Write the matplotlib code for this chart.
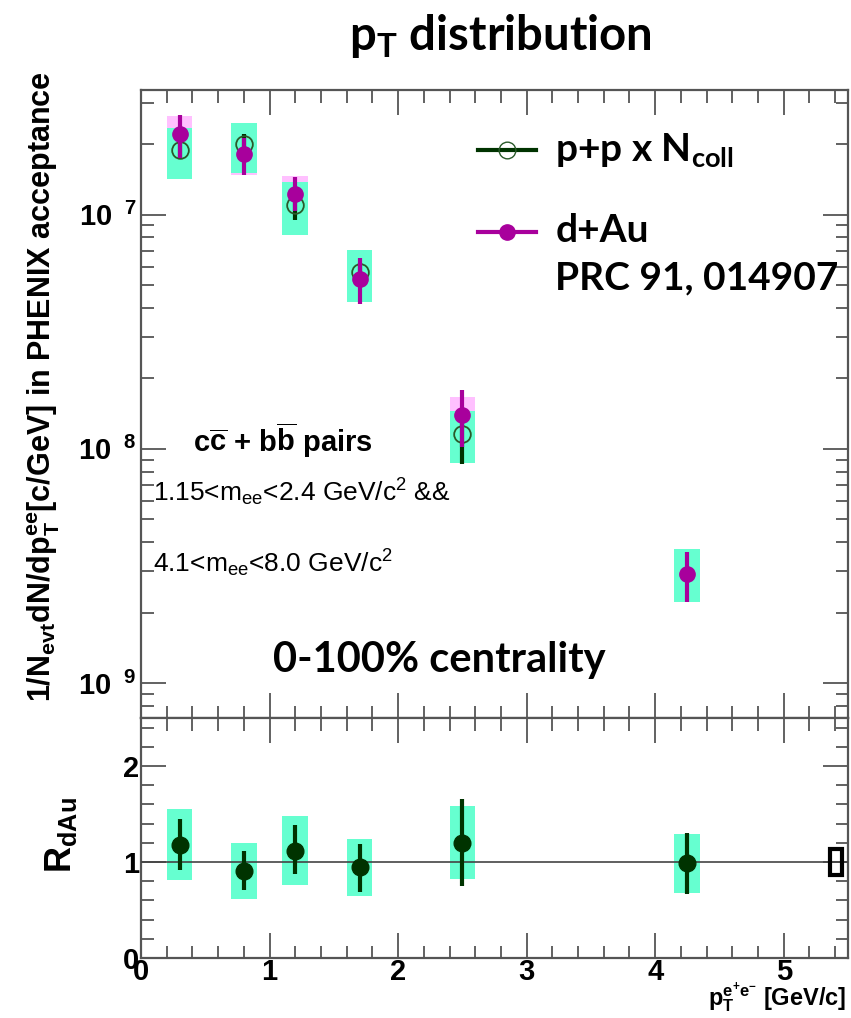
import numpy as np
import matplotlib
matplotlib.use("Agg")
import matplotlib.pyplot as plt
from matplotlib.patches import Rectangle
from matplotlib.lines import Line2D
from matplotlib.ticker import FixedLocator, MultipleLocator, LogLocator, NullFormatter

plt.rcParams['font.family'] = ['Liberation Sans', 'DejaVu Sans']
plt.rcParams['mathtext.default'] = 'regular'

# pT bins
pt = [0.3, 0.8, 1.2, 1.7, 2.5, 4.25]
half_w = 0.1

# d+Au yields, stat bars and systematic boxes
dau = [2.20e-7, 1.81e-7, 1.22e-7, 5.32e-8, 1.39e-8, 2.93e-9]
dau_lo = [1.75e-7, 1.48e-7, 1.04e-7, 4.14e-8, 1.02e-8, 2.23e-9]
dau_hi = [2.67e-7, 2.13e-7, 1.44e-7, 6.52e-8, 1.78e-8, 3.63e-9]
dau_sys_lo = [1.85e-7, 1.47e-7, 9.8e-8, 4.4e-8, 1.16e-8, np.nan]
dau_sys_hi = [2.64e-7, 2.25e-7, 1.46e-7, 6.5e-8, 1.66e-8, np.nan]

# p+p x Ncoll reference
pp = [1.88e-7, 2.00e-7, 1.10e-7, 5.68e-8, 1.16e-8, np.nan]
pp_lo = [1.72e-7, 1.81e-7, 9.5e-8, 5.13e-8, 8.6e-9, np.nan]
pp_hi = [2.07e-7, 2.20e-7, 1.26e-7, 6.24e-8, 1.47e-8, np.nan]
pp_sys_lo = [1.42e-7, 1.50e-7, 8.2e-8, 4.24e-8, 8.7e-9, 2.23e-9]
pp_sys_hi = [2.35e-7, 2.46e-7, 1.37e-7, 7.03e-8, 1.45e-8, 3.72e-9]

# nuclear modification factor
rdau = [1.175, 0.909, 1.119, 0.944, 1.203, 0.986]
rdau_lo = [0.916, 0.713, 0.871, 0.689, 0.752, 0.664]
rdau_hi = [1.447, 1.115, 1.381, 1.189, 1.661, 1.301]
rdau_sys_lo = [0.811, 0.619, 0.762, 0.643, 0.822, 0.678]
rdau_sys_hi = [1.552, 1.196, 1.479, 1.238, 1.587, 1.297]

cyan = '#66ffd0'
pink = '#ffc0ff'
magenta = '#a8009c'
dkgreen = '#003300'
frame = '#555555'
gill = ['Lato', 'DejaVu Sans']

fig = plt.figure(figsize=(8.51, 10.18), dpi=100)
ax1 = fig.add_axes([0.1657, 0.2947, 0.8308, 0.6169])
ax2 = fig.add_axes([0.1657, 0.0589, 0.8308, 0.2358])


def boxes(ax, lo, hi, color):
    for x, a, b in zip(pt, lo, hi):
        if np.isnan(a):
            continue
        ax.add_patch(Rectangle((x - half_w, a), 2 * half_w, b - a,
                               facecolor=color, edgecolor='none', zorder=2))


# top panel: spectra
boxes(ax1, dau_sys_lo, dau_sys_hi, pink)
boxes(ax1, pp_sys_lo, pp_sys_hi, cyan)
pp_a = np.array(pp)
ax1.errorbar(pt, pp_a, yerr=[pp_a - np.array(pp_lo), np.array(pp_hi) - pp_a],
             fmt='o', mfc='none', mec='#2a5a2a', mew=1.3, ms=12,
             ecolor=dkgreen, elinewidth=3, capsize=0, zorder=3)
dau_a = np.array(dau)
ax1.errorbar(pt, dau_a, yerr=[dau_a - np.array(dau_lo), np.array(dau_hi) - dau_a],
             fmt='o', color=magenta, ms=11, elinewidth=3, capsize=0, zorder=4)

ax1.set_yscale('log')
ax1.set_xlim(0, 5.5)
ax1.set_ylim(7.1e-10, 3.4e-7)
ax1.yaxis.set_major_locator(FixedLocator([1e-9, 1e-8, 1e-7]))
ax1.yaxis.set_minor_locator(LogLocator(base=10, subs=np.arange(2, 10)))
ax1.yaxis.set_minor_formatter(NullFormatter())
ax1.set_yticklabels([r'10$^{\ \ 9}$', r'10$^{\ \ 8}$', r'10$^{\ \ 7}$'])
ax1.set_xticklabels([])

# bottom panel: R_dAu
boxes(ax2, rdau_sys_lo, rdau_sys_hi, cyan)
ax2.axhline(1.0, color='#444444', lw=1.2, zorder=3)
r_a = np.array(rdau)
ax2.errorbar(pt, r_a, yerr=[r_a - np.array(rdau_lo), np.array(rdau_hi) - r_a],
             fmt='o', color=dkgreen, ms=12, elinewidth=3, capsize=0, zorder=4)
# global normalisation uncertainty
ax2.add_patch(Rectangle((5.36, 0.86), 0.09, 0.28, facecolor='none',
                        edgecolor='black', lw=3, zorder=5))
ax2.set_xlim(0, 5.5)
ax2.set_ylim(0, 2.5)
ax2.yaxis.set_major_locator(FixedLocator([0, 1, 2]))
ax2.yaxis.set_minor_locator(MultipleLocator(0.2))

for ax in (ax1, ax2):
    ax.xaxis.set_major_locator(MultipleLocator(1))
    ax.xaxis.set_minor_locator(MultipleLocator(0.2))
    ax.tick_params(which='both', direction='in', top=True, right=True,
                   color=frame, width=1.3)
    ax.tick_params(which='major', length=18, labelsize=21)
    ax.tick_params(which='minor', length=9)
    for s in ax.spines.values():
        s.set_color(frame)
        s.set_linewidth(1.6)

for lab in ax1.get_yticklabels() + ax2.get_yticklabels() + ax2.get_xticklabels():
    lab.set_fontweight('bold')
ax1.tick_params(axis='y', pad=3)
ax2.tick_params(axis='x', pad=0)
ax2.tick_params(axis='y', pad=1)

# labels and text
fig.text(0.588, 0.965, r'p$_{T}$ distribution', fontsize=34,
         fontweight='bold', family=gill, ha='center', va='center')
fig.text(0.052, 0.62, r'1/N$_{evt}$dN/dp$_{T}^{ee}$[c/GeV] in PHENIX acceptance',
         rotation=90, fontsize=22, fontweight='bold', ha='center', va='center')
fig.text(0.072, 0.18, r'R$_{dAu}$', rotation=90, fontsize=26, fontweight='bold',
         ha='center', va='center')
fig.text(0.994, 0.002, r'p$_{T}^{e^{+}e^{-}}$ [GeV/c]', fontsize=17,
         fontweight='bold', ha='right', va='bottom')

ax1.text(0.074, 0.442, r'c$\overline{c}$ + b$\overline{b}$ pairs',
         transform=ax1.transAxes, fontsize=21, fontweight='bold', va='center')
ax1.text(0.017, 0.36, r'1.15<m$_{ee}$<2.4 GeV/c$^{2}$ &&', transform=ax1.transAxes,
         fontsize=19, va='center')
ax1.text(0.017, 0.246, r'4.1<m$_{ee}$<8.0 GeV/c$^{2}$', transform=ax1.transAxes,
         fontsize=19, va='center')
ax1.text(0.186, 0.093, '0-100% centrality', transform=ax1.transAxes, fontsize=30,
         fontweight='bold', family=gill, va='center')

# legend drawn by hand so the d+Au symbol sits on the first text line
for y, kw in [(0.904, dict(color=dkgreen, mfc='none', mec='#2a5a2a', ms=12)),
              (0.774, dict(color=magenta, ms=11))]:
    ax1.add_line(Line2D([0.477, 0.558], [y, y], lw=3, transform=ax1.transAxes, zorder=5,
                        color=kw['color']))
    ax1.add_line(Line2D([0.5175], [y], marker='o', lw=0, transform=ax1.transAxes,
                        zorder=6, **kw))
ax1.text(0.586, 0.904, r'p+p x N$_{coll}$', transform=ax1.transAxes, fontsize=28,
         fontweight='bold', family=gill, va='center')
ax1.text(0.586, 0.776, 'd+Au', transform=ax1.transAxes, fontsize=28,
         fontweight='bold', family=gill, va='center')
ax1.text(0.586, 0.701, 'PRC 91, 014907', transform=ax1.transAxes, fontsize=28,
         fontweight='bold', family=gill, va='center')

fig.savefig('out.png', dpi=100)
